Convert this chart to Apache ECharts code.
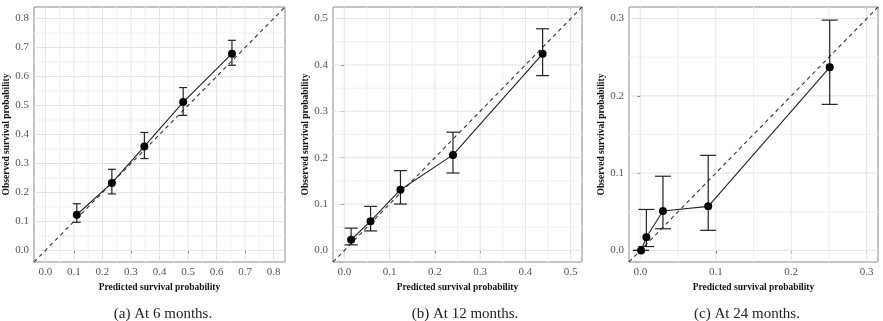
<!DOCTYPE html>
<html>
<head>
<meta charset="utf-8">
<script src="https://cdn.jsdelivr.net/npm/echarts@6/dist/echarts.min.js"></script>
<style>
  html, body { margin: 0; padding: 0; background: #fff; }
  #chart { width: 883px; height: 321px; }
</style>
</head>
<body>
<div id="chart"></div>
<script>
// calibration data
const pred6 = [0.110, 0.233, 0.347, 0.483, 0.654];
const obs6 = [0.123, 0.233, 0.359, 0.512, 0.679];
const lo6 = [0.097, 0.195, 0.317, 0.466, 0.639];
const hi6 = [0.161, 0.280, 0.407, 0.562, 0.725];

const pred12 = [0.015, 0.058, 0.124, 0.240, 0.438];
const obs12 = [0.023, 0.063, 0.131, 0.206, 0.424];
const lo12 = [0.012, 0.042, 0.100, 0.167, 0.377];
const hi12 = [0.048, 0.095, 0.172, 0.255, 0.478];

const pred24 = [0.001, 0.008, 0.030, 0.090, 0.251];
const obs24 = [0.000, 0.017, 0.051, 0.057, 0.237];
const lo24 = [0.000, 0.005, 0.028, 0.026, 0.189];
const hi24 = [0.000, 0.053, 0.096, 0.123, 0.298];

// axis ticks
const ticks6 = [0, 0.1, 0.2, 0.3, 0.4, 0.5, 0.6, 0.7, 0.8];
const minor6 = [0.05, 0.15, 0.25, 0.35, 0.45, 0.55, 0.65, 0.75];
const ticks12 = [0, 0.1, 0.2, 0.3, 0.4, 0.5];
const minor12 = [0.05, 0.15, 0.25, 0.35, 0.45];
const ticks24 = [0, 0.1, 0.2, 0.3];
const minor24 = [0.05, 0.15, 0.25];

const limits = [[-0.04, 0.84], [-0.025, 0.525], [-0.015, 0.315]];
const captions = ['(a) At 6 months.', '(b) At 12 months.', '(c) At 24 months.'];

const panels = [
  {pred: pred6, obs: obs6, lo: lo6, hi: hi6, ticks: ticks6, minor: minor6, cap: 8},
  {pred: pred12, obs: obs12, lo: lo12, hi: hi12, ticks: ticks12, minor: minor12, cap: 13},
  {pred: pred24, obs: obs24, lo: lo24, hi: hi24, ticks: ticks24, minor: minor24, cap: 16}
];

// panel boxes and caption centres (px)
const boxes = [
  {left: 34, width: 251, capX: 158},
  {left: 333, width: 249, capX: 460},
  {left: 629, width: 249, capX: 742}
];

const serif = 'Liberation Serif';

const chart = echarts.init(document.getElementById('chart'), null, {renderer: 'canvas'});

const grid = [], xAxis = [], yAxis = [], series = [], title = [];

panels.forEach(function (p, i) {
  const lim = limits[i];
  grid.push({
    left: boxes[i].left, width: boxes[i].width, top: 7, height: 255,
    show: true, borderColor: '#8a8a8a', borderWidth: 1, backgroundColor: '#fff'
  });
  const axisCommon = {
    type: 'value', gridIndex: i, min: lim[0], max: lim[1],
    axisLine: {show: false},
    splitLine: {show: false},
    axisTick: {show: true, length: 3, customValues: p.ticks, lineStyle: {color: '#444', width: 1}},
    axisLabel: {
      customValues: p.ticks, color: '#555', fontFamily: serif, fontSize: 11, margin: 5,
      formatter: function (v) { return v.toFixed(1); }
    },
    nameLocation: 'middle',
    nameTextStyle: {fontFamily: serif, fontWeight: 'bold', fontSize: 9.5, color: '#111'}
  };
  xAxis.push(Object.assign({}, axisCommon, {name: 'Predicted survival probability', nameGap: 15}));
  yAxis.push(Object.assign({}, axisCommon, {name: 'Observed survival probability', nameGap: 20}));

  // background grid lines (major + minor)
  const gridData = [];
  p.minor.forEach(function (v) { gridData.push([v, 0, 0]); gridData.push([v, 1, 0]); });
  p.ticks.forEach(function (v) { gridData.push([v, 0, 1]); gridData.push([v, 1, 1]); });
  series.push({
    type: 'custom', xAxisIndex: i, yAxisIndex: i, silent: true, z: 1,
    data: gridData,
    encode: {x: 0, y: 0},
    renderItem: function (params, api) {
      const v = api.value(0), vert = api.value(1), major = api.value(2);
      const cs = params.coordSys;
      const pt = api.coord([v, v]);
      const shape = vert === 0
        ? {x1: pt[0], y1: cs.y, x2: pt[0], y2: cs.y + cs.height}
        : {x1: cs.x, y1: pt[1], x2: cs.x + cs.width, y2: pt[1]};
      return {
        type: 'line', shape: shape,
        style: {stroke: major ? '#e3e3e3' : '#f1f1f1', lineWidth: 1}
      };
    }
  });

  // perfect calibration diagonal
  series.push({
    type: 'line', xAxisIndex: i, yAxisIndex: i, silent: true, z: 2,
    data: [[lim[0], lim[0]], [lim[1], lim[1]]],
    symbol: 'none', clip: true,
    lineStyle: {color: '#333', width: 1.1, type: [4, 3.5]}
  });

  // error bars
  const errData = p.pred.map(function (x, k) { return [x, p.lo[k], p.hi[k]]; });
  const capW = p.cap;
  series.push({
    type: 'custom', xAxisIndex: i, yAxisIndex: i, silent: true, z: 3,
    data: errData,
    encode: {x: 0, y: [1, 2]},
    renderItem: function (params, api) {
      const lo = api.coord([api.value(0), api.value(1)]);
      const hi = api.coord([api.value(0), api.value(2)]);
      const st = {stroke: '#222', lineWidth: 1.2};
      return {
        type: 'group',
        children: [
          {type: 'line', shape: {x1: lo[0], y1: lo[1], x2: hi[0], y2: hi[1]}, style: st},
          {type: 'line', shape: {x1: lo[0] - capW / 2, y1: lo[1], x2: lo[0] + capW / 2, y2: lo[1]}, style: st},
          {type: 'line', shape: {x1: hi[0] - capW / 2, y1: hi[1], x2: hi[0] + capW / 2, y2: hi[1]}, style: st}
        ]
      };
    }
  });

  // observed vs predicted
  series.push({
    type: 'line', xAxisIndex: i, yAxisIndex: i, silent: true, z: 4,
    data: p.pred.map(function (x, k) { return [x, p.obs[k]]; }),
    symbol: 'circle', symbolSize: 8,
    itemStyle: {color: '#000'},
    lineStyle: {color: '#222', width: 1.1}
  });

  title.push({
    text: captions[i],
    left: boxes[i].capX,
    top: 302,
    textAlign: 'center',
    textStyle: {fontFamily: serif, fontSize: 15, fontWeight: 'normal', color: '#222'}
  });
});

chart.setOption({
  animation: false,
  backgroundColor: '#fff',
  title: title,
  grid: grid,
  xAxis: xAxis,
  yAxis: yAxis,
  series: series
});
</script>
</body>
</html>
